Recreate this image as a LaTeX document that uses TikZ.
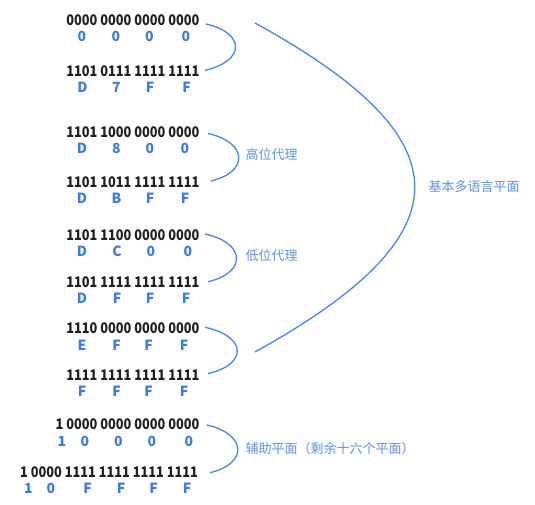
\documentclass[tikz,border=0pt]{standalone}
\usepackage{fontspec}
\setmainfont{Noto Sans CJK SC}
\newfontfamily\bitsfont[FakeStretch=0.87]{Noto Sans CJK SC}

\definecolor{hexblue}{RGB}{60,124,222}
\definecolor{lblblue}{RGB}{96,146,224}
\definecolor{arcblue}{RGB}{78,136,224}

\tikzset{every picture/.style={line width=0.75pt}}
\tikzset{
  binrow/.style={anchor=east, inner sep=0pt, text=black!88, font=\bitsfont\fontsize{11}{12}\selectfont\bfseries},
  hexdig/.style={inner sep=0pt, text=hexblue, font=\fontsize{10.5}{12}\selectfont\bfseries},
  planelbl/.style={anchor=west, inner sep=0pt, text=lblblue, font=\fontsize{9.75}{12}\selectfont},
  brace/.style={draw=arcblue, line width=1pt}
}

\begin{document}
\begin{tikzpicture}[x=0.75pt,y=0.75pt,yscale=-1,xscale=1]
\useasboundingbox (0,0) rectangle (535,504);

% Text Node: basic plane, first block
\draw (200,20.5) node (g1t) [binrow] {0000 0000 0000 0000};
\draw (82,36.7) node (g1t1) [hexdig] {0} (116,36.7) node (g1t2) [hexdig] {0} (149.5,36.7) node (g1t3) [hexdig] {0} (186,36.7) node (g1t4) [hexdig] {0};
\draw (200,71.3) node (g1b) [binrow] {1101 0111 1111 1111};
\draw (82.5,87.7) node (g1b1) [hexdig] {D} (116.5,87.7) node (g1b2) [hexdig] {7} (150,87.7) node (g1b3) [hexdig] {F} (186.5,87.7) node (g1b4) [hexdig] {F};

% Text Node: high surrogates
\draw (200,132.5) node (g2t) [binrow] {1101 1000 0000 0000};
\draw (82,148.3) node (g2t1) [hexdig] {D} (116.5,148.3) node (g2t2) [hexdig] {8} (150,148.3) node (g2t3) [hexdig] {0} (185,148.3) node (g2t4) [hexdig] {0};
\draw (200,182) node (g2b) [binrow] {1101 1011 1111 1111};
\draw (82,198) node (g2b1) [hexdig] {D} (116.5,198) node (g2b2) [hexdig] {B} (150,198) node (g2b3) [hexdig] {F} (185,198) node (g2b4) [hexdig] {F};

% Text Node: low surrogates
\draw (200,235) node (g3t) [binrow] {1101 1100 0000 0000};
\draw (82,251.7) node (g3t1) [hexdig] {D} (117,251.7) node (g3t2) [hexdig] {C} (151,251.7) node (g3t3) [hexdig] {0} (188,251.7) node (g3t4) [hexdig] {0};
\draw (200,281.7) node (g3b) [binrow] {1101 1111 1111 1111};
\draw (82,298.3) node (g3b1) [hexdig] {D} (117,298.3) node (g3b2) [hexdig] {F} (150,298.3) node (g3b3) [hexdig] {F} (186,298.3) node (g3b4) [hexdig] {F};

% Text Node: basic plane, last block
\draw (200,328.3) node (g4t) [binrow] {1110 0000 0000 0000};
\draw (82,345) node (g4t1) [hexdig] {E} (116.5,345) node (g4t2) [hexdig] {F} (148.5,345) node (g4t3) [hexdig] {F} (184,345) node (g4t4) [hexdig] {F};
\draw (200,375) node (g4b) [binrow] {1111 1111 1111 1111};
\draw (82,391.7) node (g4b1) [hexdig] {F} (116.5,391.7) node (g4b2) [hexdig] {F} (148.5,391.7) node (g4b3) [hexdig] {F} (184,391.7) node (g4b4) [hexdig] {F};

% Text Node: supplementary planes
\draw (200,424) node (g5t) [binrow] {1 0000 0000 0000 0000};
\draw (62,441) node (g5t1) [hexdig] {1} (85,441) node (g5t2) [hexdig] {0} (118.5,441) node (g5t3) [hexdig] {0} (152,441) node (g5t4) [hexdig] {0} (189,441) node (g5t5) [hexdig] {0};
\draw (198.5,471.7) node (g5b) [binrow] {1 0000 1111 1111 1111 1111};
\draw (28.5,488.3) node (g5b1) [hexdig] {1} (51,488.3) node (g5b2) [hexdig] {0} (87.5,488.3) node (g5b3) [hexdig] {F} (121,488.3) node (g5b4) [hexdig] {F} (153.5,488.3) node (g5b5) [hexdig] {F} (187,488.3) node (g5b6) [hexdig] {F};

%Shape: Arc braces
\draw [brace] ([shift={(6,3.5)}]g1t.east) .. controls +(40,9) and +(40,-9) .. ([shift={(5,-1)}]g1b.east) ;
\draw [brace] ([shift={(8,1)}]g2t.east) .. controls +(40,9) and +(38,-9) .. ([shift={(11,-1)}]g2b.east) ;
\draw [brace] ([shift={(5,-1)}]g3t.east) .. controls +(41,9) and +(39,-9) .. ([shift={(8,0)}]g3b.east) ;
\draw [brace] ([shift={(5,-1)}]g4t.east) .. controls +(42,9) and +(40,-9) .. ([shift={(8,-1.5)}]g4b.east) ;
\draw [brace] ([shift={(7,1)}]g5t.east) .. controls +(40,9) and +(38,-9) .. ([shift={(11.5,1)}]g5b.east) ;

%Shape: Big arc
\coordinate (bmpS) at (255,23);
\coordinate (bmpE) at (255,352);
\draw [brace] (bmpS) .. controls (468,140) and (468,234) .. (bmpE) ;

% Text Node: labels
\draw (245,155) node (lblHigh) [planelbl] {高位代理};
\draw (245,256) node (lblLow) [planelbl] {低位代理};
\draw (245,449) node (lblSupp) [planelbl] {辅助平面（剩余十六个平面）};
\draw (428,187) node (lblBmp) [planelbl] {基本多语言平面};

\end{tikzpicture}
\end{document}
